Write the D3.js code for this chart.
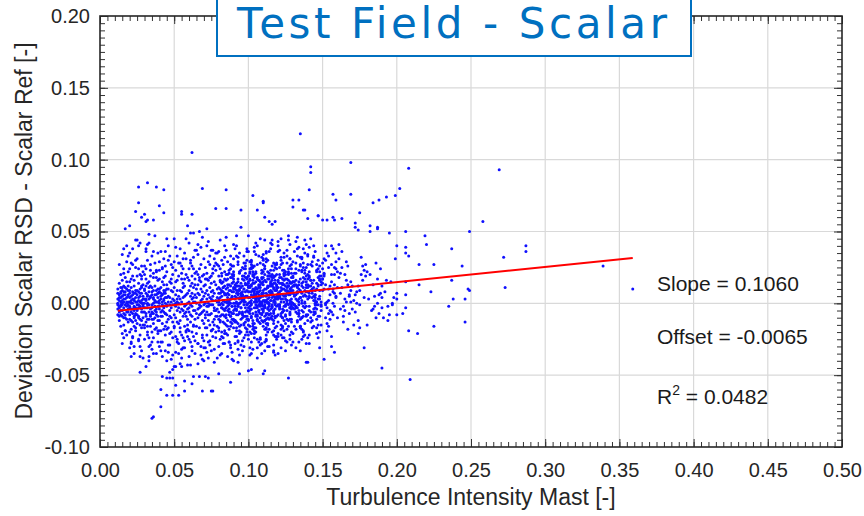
<!DOCTYPE html>
<html>
<head>
<meta charset="utf-8">
<script src="https://cdn.jsdelivr.net/npm/d3@7"></script>
<style>
  body { margin: 0; background: #fff; }
  text { font-family: "Liberation Sans", Arial, sans-serif; }
</style>
</head>
<body>
<div id="chart"></div>
<script>
// scatter values, thousandths: x = turbulence intensity, y = deviation (flat x,y pairs)
const cloudLeft = [
  12,3, 13,-6, 12,10, 14,1, 13,-12, 15,5, 14,-2, 12,-4, 16,8, 15,-9, 13,14, 17,-1, 14,20, 16,-15, 15,2, 18,4, 13,-3, 17,11, 16,-7, 14,7,
  19,-4, 18,-11, 15,16, 12,0, 17,-19, 16,24, 19,9, 13,6, 18,-2, 14,-8, 19,1, 15,-5, 17,3, 16,12, 18,-6, 12,7, 13,27, 14,-16, 19,-13, 17,6,
  15,34, 16,-3, 18,15, 13,-9, 19,22, 14,4, 17,-10, 16,1, 18,29, 15,-21, 12,-8, 19,-1, 14,11, 17,18, 13,2, 16,-24, 18,0, 15,9, 19,6, 14,-1,
  20,-2, 21,5, 22,-7, 23,12, 24,1, 25,-14, 26,8, 27,-3, 28,17, 29,-10, 20,9, 21,-18, 22,3, 23,-5, 24,25, 25,6, 26,-1, 27,-22, 28,2, 29,13,
  20,-11, 21,0, 22,19, 23,-9, 24,-3, 25,31, 26,4, 27,10, 28,-6, 29,-2, 20,15, 21,-6, 22,-13, 23,7, 24,-17, 25,1, 26,-26, 27,5, 28,-12, 29,22,
  20,4, 21,28, 22,0, 23,-30, 24,9, 25,-8, 26,14, 27,-15, 28,7, 29,3, 20,-20, 21,11, 22,38, 23,2, 24,-7, 25,19, 26,-10, 27,1, 28,-33, 29,-6,
  20,24, 21,-4, 22,8, 23,16, 24,-12, 25,-4, 26,40, 27,-37, 28,11, 29,0, 22,-24, 24,44, 26,-3, 28,26, 21,-28, 25,-1, 27,20, 29,-15, 23,-2, 20,1,
  30,3, 31,-9, 32,14, 33,-1, 34,-16, 35,6, 36,21, 37,-5, 38,9, 39,-12, 30,-6, 31,17, 32,-3, 33,8, 34,27, 35,-20, 36,0, 37,12, 38,-8, 39,4,
  30,10, 31,2, 32,-22, 33,-11, 34,5, 35,33, 36,-7, 37,-2, 38,18, 39,-27, 30,-15, 31,24, 32,6, 33,-30, 34,-4, 35,11, 36,-14, 37,28, 38,1, 39,7,
  30,20, 31,-3, 32,0, 33,15, 34,-9, 35,-1, 36,36, 37,-18, 38,-35, 39,16, 30,-25, 31,7, 32,30, 33,3, 34,12, 35,-6, 36,4, 37,-10, 38,23, 39,-2,
  31,-13, 33,42, 35,-32, 37,2, 39,-19, 30,0, 32,-16, 34,19, 36,-24, 38,-4, 31,38, 35,-11, 37,6, 39,10,
  40,-4, 41,11, 42,-14, 43,2, 44,19, 45,-8, 46,5, 47,-21, 48,14, 49,-1, 40,8, 41,-19, 42,25, 43,-6, 44,0, 45,13, 46,-29, 47,4, 48,-10, 49,20,
  40,-12, 41,3, 42,6, 43,31, 44,-16, 45,-2, 46,10, 47,-5, 48,27, 49,-13, 40,17, 41,-27, 42,-1, 43,9, 44,-33, 45,22, 46,-11, 47,15, 48,1, 49,-24,
  40,0, 41,36, 42,-9, 43,-18, 44,7, 45,-40, 46,1, 47,33, 48,-3, 49,8, 40,-30, 41,-6, 42,15, 43,-2, 44,26, 45,4, 46,-17, 47,-9, 48,-20, 49,3,
  40,23, 42,-37, 44,-7, 46,30, 48,9, 41,7, 43,13, 45,-13, 47,-1, 49,-36,
  50,2, 51,-10, 52,16, 53,-3, 54,9, 55,-22, 56,4, 57,-7, 58,20, 59,-15, 50,-17, 51,6, 52,-5, 53,28, 54,-12, 55,1, 56,-31, 57,12, 58,-1, 59,7,
  50,11, 51,-2, 52,-25, 53,5, 54,-6, 55,17, 56,-9, 57,35, 58,-19, 59,0, 50,-8, 51,23, 52,3, 53,-14, 54,38, 55,-4, 56,14, 57,-26, 58,6, 59,-11,
  50,29, 51,-34, 52,9, 53,0, 54,-20, 55,8, 56,24, 57,-2, 58,-9, 59,18, 50,-1, 51,15, 52,-13, 53,-28, 54,3, 55,-38, 56,-5, 57,5, 58,31, 59,-23,
  51,0, 53,19, 55,26, 57,-16, 59,-4, 52,1, 54,-42, 56,11, 58,-6, 50,-44
];

const cloudMiddle = [
  60,-3, 61,12, 62,-9, 63,4, 64,21, 65,-16, 66,7, 67,-1, 68,15, 69,-24, 60,9, 61,-13, 62,26, 63,-5, 64,1, 65,10, 66,-28, 67,18, 68,-7, 69,3,
  60,-19, 61,5, 62,-2, 63,32, 64,-11, 65,0, 66,13, 67,-8, 68,-30, 69,19, 60,16, 61,-27, 62,7, 63,-15, 64,6, 65,37, 66,-4, 67,24, 68,2, 69,-12,
  60,1, 61,30, 62,-20, 63,11, 64,-35, 65,4, 66,-10, 67,-3, 68,27, 69,8, 60,-6, 61,-1, 62,14, 63,-23, 64,13, 65,-7, 66,41, 67,-17, 68,-2, 69,-6,
  60,24, 62,-33, 64,-5, 66,20, 68,10, 61,-8, 63,1, 65,22, 67,6, 69,-39, 60,-37, 62,3, 64,17,
  70,5, 71,-8, 72,17, 73,-2, 74,11, 75,-19, 76,2, 77,-11, 78,23, 79,-4, 70,-14, 71,13, 72,-6, 73,29, 74,-1, 75,8, 76,-23, 77,15, 78,-9, 79,1,
  70,20, 71,0, 72,-17, 73,6, 74,-29, 75,14, 76,9, 77,-3, 78,35, 79,-16, 70,-5, 71,25, 72,3, 73,-12, 74,18, 75,-7, 76,-1, 77,31, 78,2, 79,10,
  70,-26, 71,-10, 72,40, 73,0, 74,4, 75,-33, 76,21, 77,-15, 78,-5, 79,27, 70,12, 71,7, 72,-22, 73,16, 74,-8, 75,3, 76,-13, 77,7, 78,-20, 79,-9,
  70,-1, 71,-31, 72,9, 73,-27, 74,33, 75,19, 76,5, 77,-5, 78,13, 79,-38, 71,17, 73,-8, 75,-1, 77,26, 79,4, 70,-40, 72,-2, 74,-15, 76,37,
  80,3, 81,-9, 82,14, 83,-4, 84,22, 85,-15, 86,7, 87,-1, 88,18, 89,-11, 80,-17, 81,10, 82,-3, 83,27, 84,1, 85,6, 86,-22, 87,13, 88,-6, 89,4,
  80,11, 81,-1, 82,-20, 83,8, 84,-28, 85,16, 86,2, 87,-8, 88,33, 89,-14, 80,-6, 81,24, 82,5, 83,-13, 84,12, 85,-3, 86,29, 87,-18, 88,0, 89,20,
  80,19, 81,-25, 82,9, 83,2, 84,-9, 85,37, 86,-12, 87,6, 88,-31, 89,-2, 80,-30, 81,4, 82,-8, 83,15, 84,7, 85,-21, 86,11, 87,-4, 88,9, 89,26,
  80,1, 81,16, 82,30, 83,-24, 84,-14, 85,1, 86,-5, 87,21, 88,-16, 89,8, 80,26, 81,-13, 82,-35, 83,-1, 84,40, 85,10, 86,17, 87,-27, 88,3, 89,-7,
  81,7, 83,11, 85,-8, 87,2, 89,14, 80,-11, 82,21, 84,-4, 86,-37, 88,24, 82,0, 84,-19, 86,4, 88,-9,
  93,6, 90,-7, 97,16, 91,-2, 96,25, 92,-13, 99,9, 94,0, 90,19, 98,-9, 95,-15, 93,12, 91,-4, 99,30, 97,3, 90,8, 94,-21, 92,14, 96,-6, 98,5,
  91,13, 95,1, 99,-18, 90,10, 93,-27, 98,18, 92,4, 96,-8, 94,35, 97,-14, 99,-5, 90,22, 95,7, 91,-12, 98,14, 93,-2, 97,28, 92,-17, 96,2, 94,21,
  98,21, 91,-23, 90,11, 96,3, 99,-9, 92,40, 95,-11, 93,7, 97,-30, 94,0, 91,-28, 99,5, 96,-7, 90,17, 98,8, 92,-19, 94,12, 95,-3, 97,10, 93,27,
  96,2, 99,17, 90,31, 98,-22, 91,-13, 94,3, 92,-4, 95,23, 97,-15, 93,9, 98,28, 90,-12, 96,-33, 92,0, 99,38, 91,11, 97,19, 93,-26, 95,4, 94,-6,
  99,-1, 96,8, 91,3, 98,13, 90,-5, 92,-8, 97,1, 94,10, 93,15, 95,-20, 92,9, 98,-3, 90,20, 96,6, 91,0, 97,24, 94,-36, 99,-1, 95,7, 93,32,
  97,-9, 91,-12, 99,18, 95,6, 93,-2, 90,26, 94,-16, 96,5, 98,26, 92,12, 90,-40, 97,-24, 93,-41,
  104,4, 107,-6, 100,15, 109,-1, 102,24, 106,-12, 101,8, 108,1, 103,20, 105,-8, 108,-14, 100,11, 106,-3, 102,29, 109,5, 103,9, 101,-20, 105,15, 107,-5, 104,6,
  109,14, 102,2, 104,-17, 101,12, 106,-25, 100,19, 108,5, 103,-7, 105,34, 107,-13, 101,-4, 109,23, 104,8, 100,-11, 108,15, 102,-1, 106,27, 103,-16, 107,3, 105,22,
  103,22, 100,-22, 107,12, 101,4, 109,-8, 104,39, 102,-10, 106,8, 108,-29, 105,1, 102,-27, 109,6, 100,-6, 106,18, 104,9, 103,-18, 107,13, 101,-2, 105,11, 108,28,
  107,3, 104,18, 109,32, 102,-21, 100,-12, 108,4, 105,-3, 101,24, 103,-14, 106,10, 101,29, 106,-11, 103,-32, 109,1, 105,42, 100,12, 104,20, 108,-25, 102,6, 107,-5,
  108,0, 103,9, 106,4, 100,14, 102,-4, 109,-7, 105,2, 101,11, 107,16, 104,-19, 105,10, 108,-2, 101,21, 104,7, 106,1, 103,25, 109,-35, 100,0, 102,8, 107,33,
  106,-8, 103,14, 108,-10, 101,-5, 100,19, 107,6, 104,-14, 109,17, 105,-1, 102,13, 109,7, 101,-16, 108,1, 104,26, 100,-15, 107,2, 103,10, 105,-9, 102,25, 106,-2,
  101,17, 104,-24, 108,11, 100,36, 105,-20, 102,27, 109,-28, 107,16, 103,5, 106,-38, 101,-36, 105,3, 108,-1
];

const cloudRight = [
  116,7, 110,-4, 113,17, 118,0, 111,26, 115,-10, 119,10, 112,2, 114,21, 117,-7, 111,-12, 116,13, 119,-2, 110,31, 113,6, 117,11, 112,-18, 118,16, 115,-4, 114,8,
  110,15, 119,3, 113,-15, 116,13, 118,-23, 111,20, 115,6, 117,-5, 112,36, 114,-11, 113,-3, 119,24, 110,9, 116,-9, 111,16, 118,1, 112,29, 117,-14, 114,4, 115,23,
  117,23, 113,-20, 119,13, 112,5, 110,-6, 116,41, 114,-8, 118,9, 111,-27, 115,2, 112,-25, 110,7, 118,-4, 114,19, 117,10, 119,-16, 115,14, 111,-1, 116,12, 113,30,
  118,4, 115,19, 110,34, 117,-19, 112,-11, 119,5, 114,-2, 116,26, 111,-12, 113,11, 110,30, 118,-9, 114,-30, 117,2, 111,44, 115,13, 113,22, 119,-23, 112,7, 116,-3,
  113,1, 111,10, 117,5, 115,15, 110,-2, 114,-5, 118,3, 119,12, 116,18, 112,-17, 119,11, 114,0, 110,22, 116,8, 113,3, 118,27, 117,-33, 111,1, 115,9, 112,35,
  113,-7, 116,16, 114,-8, 111,-3, 119,20, 110,7, 117,-12, 115,19, 112,1, 118,14, 114,8, 113,-14, 111,2, 117,28, 110,-13, 118,3, 115,12, 112,-7, 119,27, 116,-1,
  110,18, 117,-22, 113,12, 115,38, 111,-18, 119,28, 112,-26, 114,17, 116,6, 118,-36, 117,-34, 110,5, 113,0,
  125,6, 128,-3, 121,18, 124,1, 129,27, 122,-9, 126,11, 120,3, 127,22, 123,-6, 126,-11, 129,14, 121,-1, 124,32, 120,7, 127,12, 123,-17, 125,17, 128,-3, 122,9,
  127,16, 120,4, 125,-14, 128,14, 122,-22, 124,21, 129,7, 121,-4, 126,37, 123,-10, 124,-2, 121,25, 128,10, 120,-8, 123,17, 126,2, 122,30, 129,-13, 125,5, 127,24,
  129,24, 124,-19, 121,14, 127,6, 126,-5, 120,43, 128,-7, 123,10, 125,-26, 122,3, 123,-24, 127,8, 121,-3, 125,20, 129,11, 122,-15, 120,15, 126,0, 124,13, 128,31,
  121,5, 127,20, 124,35, 126,-18, 123,-10, 120,6, 129,-1, 122,27, 128,-11, 125,12, 128,31, 125,-8, 129,-29, 123,3, 122,45, 126,14, 124,23, 120,-21, 127,8, 121,-2,
  126,2, 122,11, 128,6, 120,16, 125,-1, 129,-4, 121,4, 123,13, 124,19, 127,-16, 127,12, 129,1, 123,23, 125,9, 121,4, 126,28, 122,-31, 128,2, 124,10, 120,36,
  124,-12, 128,-25, 122,18, 126,7, 120,-35, 123,-6, 127,21, 129,9,
  133,8, 137,-2, 130,19, 136,2, 132,28, 139,-8, 131,12, 135,4, 138,23, 134,-5, 136,-10, 130,15, 138,0, 133,33, 139,8, 131,13, 135,-16, 137,18, 132,-2, 134,10,
  138,17, 131,5, 133,-13, 139,15, 130,-21, 136,22, 135,8, 132,-3, 137,38, 134,-9, 131,-1, 135,26, 139,11, 134,-7, 130,18, 132,3, 136,31, 133,-12, 138,6, 137,25,
  139,25, 132,-18, 134,15, 130,7, 131,-4, 138,44, 137,-6, 133,11, 136,-25, 135,4, 137,-23, 130,9, 139,-2, 131,21, 133,12, 138,-14, 132,16, 134,1, 136,14, 135,32,
  132,6, 138,21, 131,36, 135,-17, 139,-9, 133,7, 130,0, 137,28, 136,-10, 134,13, 136,32, 134,-7, 139,-28, 135,4, 133,46, 130,15, 132,24, 137,-20, 138,9, 131,-1,
  142,9, 146,-1, 140,20, 148,3, 143,29, 145,-7, 149,13, 141,5, 147,24, 144,-4, 148,-9, 142,16, 146,1, 140,34, 145,9, 143,14, 147,-15, 141,19, 149,-1, 144,11,
  147,18, 145,6, 140,-12, 142,16, 148,-20, 146,23, 143,9, 149,-2, 141,39, 144,-8, 145,0, 140,27, 147,12, 142,-6, 149,19, 141,4, 144,32, 146,-11, 143,7, 148,26,
  143,26, 146,-17, 148,16, 140,8, 145,-3, 142,45, 149,-5, 141,12, 147,-24, 144,5, 141,-22, 143,10, 147,-1, 146,22, 140,13, 142,-13, 148,17, 145,2, 149,15, 144,33,
  154,10, 157,0, 151,21, 159,4, 152,30, 156,-6, 150,14, 155,6, 158,25, 153,-3, 157,-8, 150,17, 154,2, 159,35, 151,10, 156,15, 153,-14, 158,20, 152,0, 155,12,
  151,19, 158,7, 155,-11, 150,17, 153,-19, 159,24, 157,10, 152,-1, 156,40, 154,-7, 153,1, 150,28, 158,13, 155,-5, 151,20, 159,5, 154,33, 152,-10, 157,8, 156,27,
  154,-16, 150,9, 158,-2, 152,13, 156,-23,
  163,11, 166,1, 160,22, 168,5, 161,31, 165,-5, 169,15, 162,7, 167,26, 164,-2, 168,-7, 161,18, 165,3, 163,36, 160,11, 166,16, 164,-13, 162,21, 169,1, 167,13,
  165,20, 160,-10, 167,-18, 163,25, 161,41, 169,9, 162,-4, 166,29, 164,-9, 168,6,
  174,12, 171,2, 178,23, 172,6, 176,32, 170,-4, 177,16, 173,8, 179,27, 175,-1, 172,-6, 178,4, 170,12, 174,-12, 176,20, 179,19, 171,-15, 177,26, 173,0, 175,9,
  184,13, 181,3, 189,24, 183,-5, 187,17, 192,8, 186,28, 197,0, 190,12, 195,-8, 182,20, 194,-12, 188,6, 199,31, 185,-2, 196,15, 191,-10, 180,22, 198,4, 193,16
];

// the densest part of the cloud, read separately
const coreDense = [
  83,2, 87,9, 91,-4, 95,14, 99,5, 102,-9, 106,17, 109,0, 113,11, 117,-6, 121,20, 125,3, 129,-11, 133,8, 137,15, 141,-2, 145,6, 148,19,
  81,-12, 85,6, 89,18, 93,-1, 97,10, 101,22, 104,-3, 108,13, 112,-8, 116,4, 120,-13, 124,16, 128,0, 132,21, 136,-5, 140,11, 144,2, 147,-9,
  84,-5, 88,12, 92,1, 96,-10, 100,8, 103,16, 107,-1, 111,24, 115,2, 119,9, 123,-4, 127,12, 131,-1, 135,17, 139,5, 143,-12, 146,14, 149,1,
  82,8, 86,-2, 90,15, 94,-7, 98,1, 102,12, 105,6, 109,-12, 113,19, 117,14, 121,-1, 125,-9, 129,18, 133,-3, 137,5, 141,22, 145,-6, 148,9,
  80,-1, 84,17, 88,-9, 92,7, 96,19, 100,-3, 104,10, 108,-7, 112,15, 116,-2, 120,11, 124,5, 128,-6, 132,13, 136,0, 140,-8, 144,16, 147,3,
  86,13, 90,-11, 94,4, 98,-6, 102,0, 106,7, 110,-5, 114,12, 118,19, 122,-7, 126,9, 130,-3, 134,23, 138,1, 142,12, 146,-4,
  83,-8, 87,1, 91,10, 95,-3, 99,-11, 103,4, 107,11, 111,-2, 115,7, 119,-9, 123,14, 127,-1, 131,6, 135,-11, 139,19, 143,4,
  85,20, 89,5, 93,-14, 97,-1, 101,1, 105,-6, 109,21, 113,-4, 117,1, 121,8, 125,22, 129,3, 133,-7, 137,11, 141,7, 145,-1,
  82,-3, 88,3, 94,9, 100,4, 106,-9, 112,10, 118,-1, 124,-5, 130,12, 136,7, 142,-10, 148,5,
  84,6, 90,0, 96,12, 103,-12, 110,2, 116,20, 122,1, 128,15, 134,-1, 140,3, 146,10,
  81,15, 87,-6, 93,17, 99,13, 105,3, 111,-9, 117,18, 123,6, 129,-2, 135,9, 141,-5, 147,13,
  86,0, 92,-5, 98,-13, 104,1, 110,13, 116,-11, 122,14, 128,8, 134,3, 140,17,
  89,-2, 95,11, 101,-7, 107,8, 113,-10, 119,4, 125,-2, 131,15, 137,-9, 143,9,
  83,11, 91,5, 97,2, 103,19, 109,-4, 115,-7, 121,5, 127,-12, 133,2, 139,13, 145,4,
  80,7, 88,-13, 96,6, 104,14, 112,-14, 120,-1, 128,-8, 136,12, 144,-6,
  85,-10, 93,-8, 101,16, 108,9, 114,-1, 118,-10, 126,17, 132,-6, 138,-3,
  13,4, 15,-1, 17,8, 19,-6, 21,2, 23,-10, 25,9, 27,-2, 29,5, 31,-7, 33,11, 35,-3, 37,1, 39,7, 41,-9, 43,3, 45,-1,
  14,-5, 16,3, 18,10, 20,-3, 22,6, 24,-8, 26,2, 28,-4, 30,9, 32,-1, 34,4, 36,-11, 38,6, 40,2, 42,-5, 44,9,
  13,-2, 15,11, 17,-8, 19,5, 21,-12, 23,3, 25,-5, 27,7, 29,-1, 31,12, 33,-6, 35,8, 37,-2, 39,-9, 41,5, 43,-3, 45,10,
  14,8, 16,-10, 18,1, 20,7, 22,-4, 24,4, 26,-9, 28,12, 30,-3, 32,5, 34,-8, 36,3, 38,-6, 40,10, 42,1, 44,-7,
  12,-1, 16,6, 20,-8, 24,7, 28,0, 32,-11, 36,9, 40,-2, 44,4, 15,0, 19,12, 23,-3, 27,-11, 31,3, 35,-7, 39,1, 43,7
];

// the looser upper and lower edges of the cloud
const cloudEdges = [
  16,21, 19,33, 22,27, 25,44, 28,19, 31,36, 34,23, 37,47, 40,29, 43,18, 46,40, 49,25, 52,33, 55,21, 58,45, 61,28, 64,37, 67,16, 70,31, 73,43,
  76,24, 79,35, 82,19, 85,46, 88,27, 91,38, 94,22, 97,33, 100,47, 103,26, 106,40, 109,18, 112,31, 115,42, 118,25, 121,37, 124,20, 127,44, 130,29,
  133,38, 136,23, 139,41, 142,27, 145,36, 148,22, 151,31, 154,25, 157,38,
  18,40, 21,17, 24,30, 27,42, 30,26, 33,48, 36,18, 39,35, 42,24, 45,45, 48,17, 51,39, 54,28, 57,17, 60,42, 63,24, 66,34, 69,46, 72,21, 75,37,
  78,28, 81,44, 84,32, 87,23, 90,41, 93,29, 96,17, 99,36, 102,30, 105,21, 108,45, 111,24, 114,36, 117,19, 120,40, 123,28, 126,33, 129,21, 132,43,
  135,27, 138,35, 141,18, 144,40, 147,30, 150,24, 153,35, 156,20, 159,29,
  20,35, 26,24, 32,41, 38,22, 44,36, 50,45, 56,31, 62,19, 68,39, 74,27, 80,36, 86,20, 92,33, 98,24, 104,36, 110,27, 116,44, 122,32, 128,26,
  134,39, 140,33, 146,27, 152,40,
  17,-19, 20,-31, 23,-16, 26,-25, 29,-38, 32,-20, 35,-27, 38,-17, 41,-33, 44,-22, 47,-29, 50,-16, 53,-35, 56,-24, 59,-18, 62,-30, 65,-21, 68,-36,
  71,-17, 74,-26, 77,-32, 80,-19, 83,-28, 86,-16, 89,-34, 92,-23, 95,-29, 98,-17, 101,-31, 104,-21, 107,-27, 110,-16, 113,-30, 116,-20, 119,-25,
  122,-18, 125,-33, 128,-22, 131,-16, 134,-27, 137,-19, 140,-24, 143,-17, 146,-21, 149,-15,
  15,-28, 18,-22, 21,-37, 24,-19, 27,-30, 30,-17, 33,-24, 36,-35, 39,-21, 42,-27, 45,-18, 48,-39, 51,-23, 54,-17, 57,-31, 60,-25, 63,-16, 66,-28,
  69,-22, 72,-34, 75,-19, 78,-24, 81,-36, 84,-21, 87,-27, 90,-17, 93,-32, 96,-26, 99,-20, 102,-35, 105,-17, 108,-24, 111,-33, 114,-18, 117,-29,
  120,-23, 123,-16, 126,-27, 129,-20, 132,-31, 135,-16, 138,-22, 141,-28, 144,-16,
  22,-23, 28,-17, 34,-29, 40,-19, 46,-34, 52,-27, 58,-20, 64,-26, 70,-31, 76,-18, 82,-23, 88,-29, 94,-19, 100,-25, 106,-31, 112,-22, 118,-17,
  124,-24, 130,-27, 136,-18
];

const outliersHigh = [
  135,118, 169,98, 142,95, 142,91, 208,94, 269,93, 141,79, 157,76, 169,76, 159,72, 202,80, 199,75, 193,74, 188,72, 184,70, 137,65, 175,63, 140,59,
  147,61, 150,58, 157,60, 158,58, 163,59, 172,56, 172,53, 174,51, 182,54, 187,53, 187,52, 182,50, 195,49, 206,50, 258,57, 249,50, 219,47, 220,41,
  237,38, 287,40, 287,36, 272,32, 200,40, 206,39, 206,35, 208,33, 215,27, 225,27, 244,26, 339,26, 237,16, 215,13, 206,15, 273,11, 359,10, 248,10,
  249,9, 223,8, 206,6, 238,3, 246,3, 235,-2, 200,3, 200,7, 204,-7, 200,-8, 206,-3, 246,-13, 225,-16, 208,-19, 214,-21, 187,0, 189,7, 185,5, 190,4,
  62,105, 26,81, 32,84, 38,81, 43,79, 69,80, 85,79, 26,70, 40,68, 43,63, 36,58, 17,52, 20,54, 55,64, 55,62, 62,62, 78,66, 85,66, 95,65, 103,75,
  110,70, 110,71, 106,65, 111,60, 114,57, 116,55, 118,57, 130,72, 130,67, 134,72, 138,65, 147,61, 153,58, 16,38, 59,54, 67,50, 72,52, 61,49, 63,49,
  24,64, 28,60, 30,62, 31,57, 32,58, 127,47, 128,41, 95,53, 92,47
];

const outliersLow = [
  35,-80, 36,-79, 41,-72, 41,-60, 45,-64, 49,-64, 53,-64, 57,-61, 45,-52, 47,-52, 49,-52, 47,-48, 49,-46, 42,-51, 27,-48, 76,-61, 88,-55,
  62,-56, 63,-51, 67,-51, 71,-51, 73,-52, 57,-54, 51,-57, 80,-49, 94,-49, 100,-47, 110,-49, 111,-47, 127,-52, 139,-41, 33,-40, 31,-44,
  23,-35, 21,-27, 51,-44, 55,-44, 59,-43, 66,-42, 73,-38, 77,-41, 89,-39, 69,-61, 75,-61, 102,-46, 33,-37, 55,-32, 61,-43, 178,-31,
  190,-45, 209,-53, 140,-41, 151,-39, 158,-34, 156,-30, 148,-31, 135,-33, 174,-21, 180,-15, 175,-17, 186,-10, 188,-7, 184,-4, 190,-3, 194,-2, 197,-1
];

// fit results shown in the chart
const slope = 0.1060;
const offset = -0.0065;
const rSquared = 0.0482;

const xTicks = [0, 0.05, 0.10, 0.15, 0.20, 0.25, 0.30, 0.35, 0.40, 0.45, 0.50];
const yTicks = [-0.10, -0.05, 0.00, 0.05, 0.10, 0.15, 0.20];

const title = "Test Field - Scalar";
const xLabel = "Turbulence Intensity Mast [-]";
const yLabel = "Deviation Scalar RSD - Scalar Ref [-]";

function toPoints(flat) {
    return d3.range(0, flat.length, 2).map(i => ({ x: flat[i] / 1000, y: flat[i + 1] / 1000 }));
}
let data = [].concat(toPoints(cloudLeft), toPoints(cloudMiddle), toPoints(cloudRight),
    toPoints(coreDense), toPoints(cloudEdges), toPoints(outliersHigh), toPoints(outliersLow));

let width = 864;
let height = 516;
let plotL = 100, plotR = 842, plotT = 16, plotB = 447;

let svg = d3.select("#chart").append("svg")
    .attr("width", width).attr("height", height)
    .style("display", "block");

let xscale = d3.scaleLinear().domain([0, 0.5]).range([plotL, plotR]);
let yscale = d3.scaleLinear().domain([-0.1, 0.2]).range([plotB, plotT]);

// grid
svg.append("g").selectAll("line").data(xTicks.slice(1, -1)).enter().append("line")
    .attr("x1", d => xscale(d)).attr("x2", d => xscale(d))
    .attr("y1", plotT).attr("y2", plotB)
    .attr("stroke", "#d9d9d9").attr("stroke-width", 1.2);
svg.append("g").selectAll("line").data(yTicks.slice(1, -1)).enter().append("line")
    .attr("y1", d => yscale(d)).attr("y2", d => yscale(d))
    .attr("x1", plotL).attr("x2", plotR)
    .attr("stroke", "#d9d9d9").attr("stroke-width", 1.2);

// points
svg.append("g").selectAll("circle").data(data).enter().append("circle")
    .attr("cx", d => xscale(d.x))
    .attr("cy", d => yscale(d.y))
    .attr("r", 1.5)
    .attr("fill", "#1010ff");

// regression line
let xExt = d3.extent(data, d => d.x);
svg.append("line")
    .attr("x1", xscale(xExt[0])).attr("y1", yscale(slope * xExt[0] + offset))
    .attr("x2", xscale(xExt[1])).attr("y2", yscale(slope * xExt[1] + offset))
    .attr("stroke", "#ff0000").attr("stroke-width", 2);

// axes: major + minor ticks on all four sides, pointing inward
let xMinor = d3.range(0, 0.5001, 0.005);
let yMinor = d3.range(-0.1, 0.2001, 0.005);
let fmt = d => d.toFixed(2);
function styleAxis(g) {
    g.select(".domain").remove();
    g.selectAll("line").attr("stroke", "#333");
    g.selectAll("text").attr("fill", "#262626")
        .style("font-family", "'Liberation Sans', Arial, sans-serif").style("font-size", "20px");
}
svg.append("g").attr("transform", "translate(0," + plotB + ")")
    .call(d3.axisBottom(xscale).tickValues(xMinor).tickSize(-5).tickFormat("")).call(styleAxis);
svg.append("g").attr("transform", "translate(0," + plotT + ")")
    .call(d3.axisTop(xscale).tickValues(xMinor).tickSize(-5).tickFormat("")).call(styleAxis);
svg.append("g").attr("transform", "translate(" + plotL + ",0)")
    .call(d3.axisLeft(yscale).tickValues(yMinor).tickSize(-5).tickFormat("")).call(styleAxis);
svg.append("g").attr("transform", "translate(" + plotR + ",0)")
    .call(d3.axisRight(yscale).tickValues(yMinor).tickSize(-5).tickFormat("")).call(styleAxis);

svg.append("g").attr("transform", "translate(0," + plotB + ")")
    .call(d3.axisBottom(xscale).tickValues(xTicks).tickSize(-8).tickPadding(16).tickFormat(fmt))
    .call(styleAxis);
svg.append("g").attr("transform", "translate(0," + plotT + ")")
    .call(d3.axisTop(xscale).tickValues(xTicks).tickSize(-8).tickFormat("")).call(styleAxis);
svg.append("g").attr("transform", "translate(" + plotL + ",0)")
    .call(d3.axisLeft(yscale).tickValues(yTicks).tickSize(-8).tickPadding(10).tickFormat(fmt))
    .call(styleAxis);
svg.append("g").attr("transform", "translate(" + plotR + ",0)")
    .call(d3.axisRight(yscale).tickValues(yTicks).tickSize(-8).tickFormat("")).call(styleAxis);

svg.append("rect")
    .attr("x", plotL).attr("y", plotT)
    .attr("width", plotR - plotL).attr("height", plotB - plotT)
    .attr("fill", "none").attr("stroke", "#262626").attr("stroke-width", 1.6);

// axis titles
svg.append("text")
    .attr("x", (plotL + plotR) / 2).attr("y", 505)
    .attr("text-anchor", "middle").attr("fill", "#262626")
    .style("font-size", "23px")
    .text(xLabel);
svg.append("text")
    .attr("transform", "translate(32," + 231 + ") rotate(-90)")
    .attr("text-anchor", "middle").attr("fill", "#262626")
    .style("font-size", "23px")
    .text(yLabel);

// fit statistics
let stats = svg.append("g").attr("fill", "#1a1a1a").style("font-size", "21px");
stats.append("text").attr("x", 657).attr("y", 291).text("Slope = " + slope.toFixed(4));
stats.append("text").attr("x", 657).attr("y", 344).text("Offset = " + offset.toFixed(4));
let r2 = stats.append("text").attr("x", 657).attr("y", 404);
r2.append("tspan").text("R");
r2.append("tspan").attr("dy", -9).style("font-size", "14px").text("2");
r2.append("tspan").attr("dy", 9).text(" = " + rSquared.toFixed(4));

// title box
svg.append("rect")
    .attr("x", 217).attr("y", -4).attr("width", 474).attr("height", 60)
    .attr("fill", "#fff").attr("stroke", "#0070c0").attr("stroke-width", 2);
svg.append("text")
    .attr("x", 237).attr("y", 38)
    .attr("fill", "#0070c0")
    .attr("textLength", 430).attr("lengthAdjust", "spacing")
    .style("font-family", "'DejaVu Sans', Verdana, sans-serif")
    .style("font-size", "42px")
    .text(title);
</script>
</body>
</html>
